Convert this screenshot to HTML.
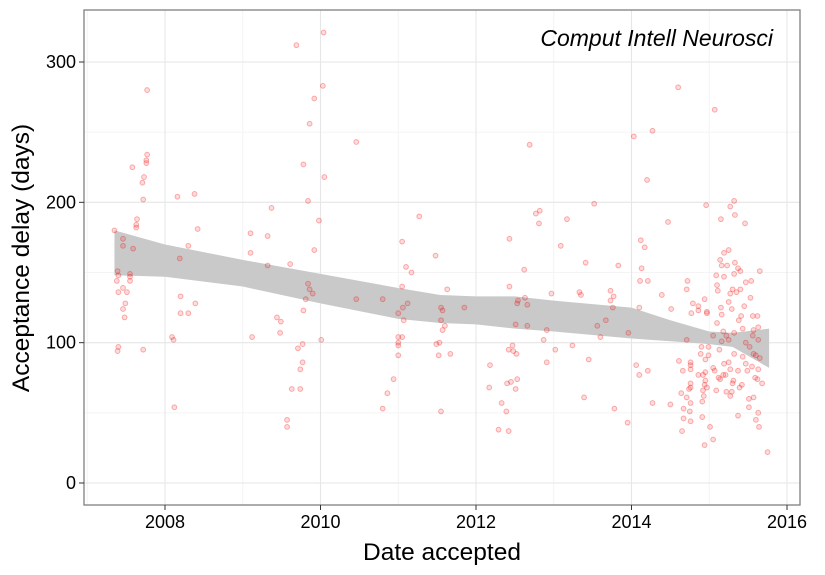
<!DOCTYPE html>
<html><head><meta charset="utf-8"><style>
body{margin:0;background:#fff;}
svg text{font-family:"Liberation Sans",sans-serif;}
</style></head><body>
<svg id="chart" width="825" height="570" viewBox="0 0 825 570" xmlns="http://www.w3.org/2000/svg">
<rect width="825" height="570" fill="#fff"/>
<g id="grid"></g>
<g id="ribbon"></g>
<g id="pts"></g>
<rect x="84" y="10" width="716" height="495" fill="none" stroke="#7f7f7f" stroke-width="1.3"/>
<g id="axes"></g>
<text x="773" y="46" text-anchor="end" font-size="23" font-style="italic">Comput Intell Neurosci</text>
<text x="442" y="560" text-anchor="middle" font-size="24.5">Date accepted</text>
<text transform="translate(29,258) rotate(-90)" text-anchor="middle" font-size="24.5">Acceptance delay (days)</text>
</svg>
<script>
const xTicks=[2008,2010,2012,2014,2016];
const xMinor=[2007,2009,2011,2013,2015];
const yTicks=[0,100,200,300];
const yMinor=[50,150,250];
const bandYears=[2007.35,2008,2009,2010,2011,2011.54,2012,2012.5,2013,2014,2014.5,2015,2015.3,2015.77];
const bandUpper=[180,170,159,149,139,134,133,133,130,125,116,108,107,110];
const bandLower=[148,147,140,128,117,114,113,110,108,103,101,99,97,82];
const ptYears=[2007.35,2007.46,2007.46,2007.59,2007.39,2007.40,2007.38,2007.55,2007.55,2007.55,2007.46,2007.40,2007.51,2007.49,2007.46,2007.48,2007.40,2007.39,2007.72,2007.77,2007.77,2007.76,2007.76,2007.58,2007.73,2007.71,2007.72,2007.64,2007.63,2007.63,
2008.16,2008.38,2008.42,2008.30,2008.19,2008.20,2008.39,2008.20,2008.30,2008.09,2008.11,2008.12,
2009.37,2009.10,2009.32,2009.10,2009.32,2009.61,2009.44,2009.49,2009.48,2009.12,2009.69,2010.04,2010.03,2009.92,2009.86,2010.46,2009.78,2010.05,2009.84,2009.98,2009.92,2009.84,2009.86,2009.90,2009.81,2009.78,2010.01,2009.77,2009.71,2009.77,2009.74,2009.63,2009.74,2009.57,2009.57,
2010.46,2010.80,2011.27,2011.05,2011.48,2011.10,2011.17,2011.05,2011.12,2011.06,2011.00,2011.07,2011.63,2011.55,2011.57,2011.55,2011.60,2011.57,2011.00,2011.05,2011.00,2011.00,2011.00,2011.53,2011.49,2011.52,2010.94,2010.86,2010.80,2011.55,
2011.85,2011.67,2012.69,2013.52,2012.77,2012.82,2012.81,2013.17,2012.43,2013.09,2012.62,2013.41,2013.83,2012.43,2012.97,2013.33,2013.35,2013.73,2013.77,2013.73,2013.76,2012.54,2012.53,2012.63,2012.66,2012.51,2012.66,2012.91,2012.87,2013.56,2013.67,2013.60,2012.47,2012.42,2012.48,2012.52,2013.02,2013.24,2012.91,2013.45,2012.18,2012.17,2012.53,2012.45,2012.40,2012.51,2012.33,2012.39,2012.29,2012.42,2013.39,2013.78,2013.95,
2014.03,2014.27,2014.20,2014.60,2015.07,2014.47,2014.12,2014.17,2014.13,2014.11,2014.21,2014.39,2014.10,2014.51,2013.96,2014.06,2014.10,2014.21,2014.27,2014.50,
2014.96,2015.32,2015.27,2015.33,2015.15,2015.46,2015.25,2015.19,2015.14,2015.16,2015.23,2015.33,2015.37,2015.40,2015.65,2015.09,2015.19,2015.32,2014.72,2014.71,2015.10,2015.11,2015.30,2015.27,2015.35,2015.40,2015.47,2015.54,
2014.94,2014.79,2014.86,2014.86,2014.77,2014.97,2014.97,2015.15,2015.25,2015.29,2015.45,2015.53,2015.41,2015.56,2015.62,2015.16,2015.10,2015.38,2015.43,2015.63,2015.57,2015.18,2015.32,2015.05,2015.22,2015.25,2015.16,2014.71,2015.47,2015.56,2015.63,
2014.99,2014.90,2015.13,2015.52,2014.89,2014.99,2014.95,2015.32,2015.43,2015.57,2015.60,2015.65,2014.61,2014.76,2014.76,2014.76,2014.66,2015.19,2015.25,2015.47,2015.05,2015.07,2015.55,2014.95,2015.21,2015.27,2015.37,2015.49,2015.63,2014.86,2014.92,2015.18,2015.14,2015.12,2015.59,2015.62,2015.68,2015.31,2015.30,2015.42,2014.76,2014.76,2014.74,2014.95,2014.94,2014.97,2014.92,2015.09,2015.22,2015.29,2015.39,2014.64,2014.71,2014.93,2015.27,2015.57,2015.51,2014.91,2014.76,2014.67,2014.75,2015.51,2015.37,2015.63,2014.67,2014.91,2014.76,2015.60,2015.01,2015.64,2014.65,2015.05,2014.94,2015.75];
const ptDays=[180,174,169,167,151,148,144,149,147,144,139,136,136,128,124,118,97,94,95,280,234,230,228,225,218,214,202,188,184,182,
204,206,181,169,160,133,128,121,121,104,102,54,
196,178,176,164,155,156,118,115,107,104,312,321,283,274,256,243,227,218,201,187,166,142,138,135,131,123,102,99,96,86,81,67,67,45,40,
131,131,190,172,162,154,150,140,128,125,121,116,138,125,123,116,112,109,104,104,100,98,91,100,99,91,74,64,53,51,
125,92,241,199,192,194,185,188,174,169,152,157,155,140,135,136,134,137,133,130,125,130,128,132,127,113,112,109,102,112,116,104,98,95,94,92,95,98,86,88,84,68,74,72,71,67,57,51,38,37,61,53,43,
247,251,216,282,266,186,173,168,153,144,144,134,125,124,107,84,77,80,57,56,
198,201,197,191,188,185,166,164,159,155,155,157,153,151,151,148,147,149,144,138,141,137,138,135,136,138,143,144,
131,128,126,123,121,122,121,125,129,124,126,132,119,119,119,120,114,116,110,111,109,108,107,105,105,102,101,102,100,105,102,
97,97,95,97,92,91,88,92,90,92,91,89,87,86,84,81,80,85,86,85,82,80,83,79,77,81,80,80,81,77,77,77,74,75,75,74,71,73,71,70,71,68,67,73,70,68,66,66,65,65,68,64,61,62,62,61,60,58,57,53,51,54,48,50,46,47,44,45,40,40,37,31,27,22];

const X0=84,X1=800,Y0=10,Y1=505;
function xs(t){return 165+(t-2008)*77.75;}
function ys(v){return 483-v*1.4033;}
const NS="http://www.w3.org/2000/svg";
function mk(tag,attrs,parent){const e=document.createElementNS(NS,tag);for(const k in attrs)e.setAttribute(k,attrs[k]);parent.appendChild(e);return e;}
const grid=document.getElementById('grid'),axes=document.getElementById('axes');
xMinor.forEach(t=>{const l=mk('line',{x1:xs(t),x2:xs(t),y1:Y0,y2:Y1,stroke:'#f4f4f4','stroke-width':1},grid);

});
yMinor.forEach(v=>{const l=mk('line',{x1:X0,x2:X1,y1:ys(v),y2:ys(v),stroke:'#f4f4f4','stroke-width':1},grid);

});
xTicks.forEach(t=>{const l=mk('line',{x1:xs(t),x2:xs(t),y1:Y0,y2:Y1,stroke:'#e6e6e6','stroke-width':1.1},grid);


const tk=mk('line',{x1:xs(t),x2:xs(t),y1:Y1,y2:Y1+5,stroke:'#333','stroke-width':1},axes);


const tx=mk('text',{x:xs(t),y:Y1+23,'text-anchor':'middle','font-size':18,fill:'#000'},axes);tx.textContent=t;

});
yTicks.forEach(v=>{const l=mk('line',{x1:X0,x2:X1,y1:ys(v),y2:ys(v),stroke:'#e6e6e6','stroke-width':1.1},grid);


const tk=mk('line',{x1:X0-5,x2:X0,y1:ys(v),y2:ys(v),stroke:'#333','stroke-width':1},axes);


const tx=mk('text',{x:X0-8,y:ys(v)+6,'text-anchor':'end','font-size':18,fill:'#000'},axes);tx.textContent=v;

});
let d='';bandYears.forEach((t,i)=>{d+=(i?'L':'M')+xs(t)+','+ys(bandUpper[i]);});
for(let i=bandYears.length-1;i>=0;i--)d+='L'+xs(bandYears[i])+','+ys(bandLower[i]);
const rb=mk('path',{d:d+'Z',fill:'#c9c9c9'},document.getElementById('ribbon'));


const pg=document.getElementById('pts');
ptYears.forEach((t,i)=>{const c=mk('circle',{cx:xs(t),cy:ys(ptDays[i]),r:2.4,fill:'rgba(255,0,0,0.14)',stroke:'rgba(240,0,0,0.3)','stroke-width':1},pg);

});
</script>
</body></html>
